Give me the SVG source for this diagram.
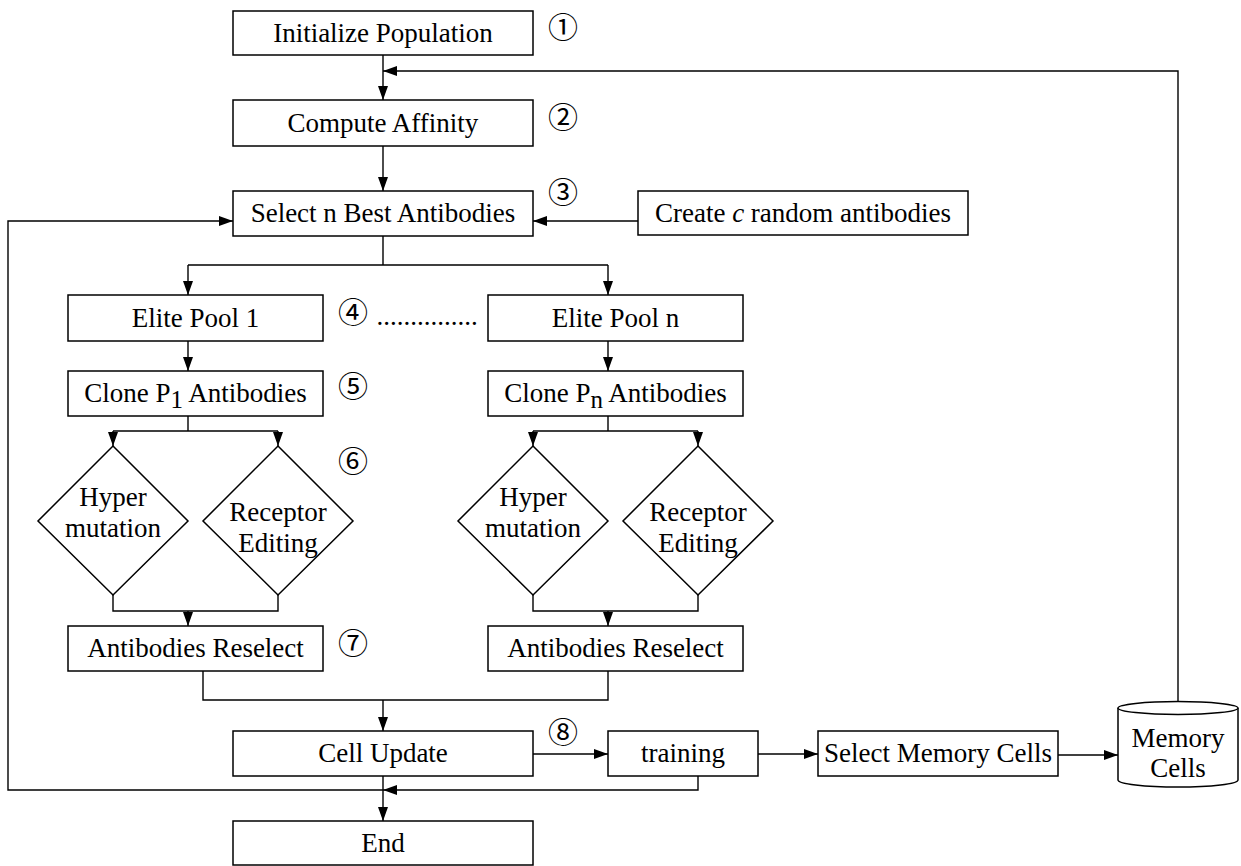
<svg xmlns="http://www.w3.org/2000/svg" width="1241" height="866" viewBox="0 0 1241 866">
<style>
.box{fill:#fff;stroke:#000;stroke-width:1.5}
.t{font-family:'Liberation Serif','Times New Roman','DejaVu Serif',serif;font-size:27px;fill:#000;text-anchor:middle}
.n{font-family:'Noto Sans CJK JP','DejaVu Sans',sans-serif;font-size:30px;fill:#000;text-anchor:middle}
.c{fill:none;stroke:#000;stroke-width:1.4}
.a{fill:none;stroke:#000;stroke-width:1.4;marker-end:url(#ah)}
</style>
<defs>
<marker id="ah" markerUnits="userSpaceOnUse" markerWidth="14" markerHeight="10" viewBox="0 0 14 10" refX="14" refY="5" orient="auto">
<path d="M0,0 L14,5 L0,10 z" fill="#000"/>
</marker>
</defs>
<rect width="1241" height="866" fill="#fff"/>

<g id="connectors">
<path class="a" d="M383,55 V100"/>
<path class="a" d="M1178,702 V71 H383"/>
<path class="a" d="M383,146 V191"/>
<path class="a" d="M638,221 H533"/>
<path class="c" d="M383,236 V265 M188,265 H608"/>
<path class="a" d="M188,265 V295"/>
<path class="a" d="M608,265 V295"/>
<path class="a" d="M188,341 V371"/>
<path class="a" d="M608,341 V371"/>
<path class="c" d="M188,416 V431 M113,431 H278"/>
<path class="a" d="M113,431 V446"/>
<path class="a" d="M278,431 V446"/>
<path class="c" d="M608,416 V431 M533,431 H698"/>
<path class="a" d="M533,431 V446"/>
<path class="a" d="M698,431 V446"/>
<path class="c" d="M113,595 V611 H278 V595"/>
<path class="a" d="M188,611 V626"/>
<path class="c" d="M533,595 V611 H698 V595"/>
<path class="a" d="M608,611 V626"/>
<path class="c" d="M203,671 V700 H608 V671"/>
<path class="a" d="M383,700 V731"/>
<path class="a" d="M533,754 H608"/>
<path class="a" d="M758,754 H818"/>
<path class="a" d="M1058,755 H1118"/>
<path class="a" d="M383,776 V821"/>
<path class="a" d="M698,776 V790 H383"/>
<path class="a" d="M383,790 H8 V221 H233"/>
</g>

<g id="init"><rect class="box" x="233" y="11" width="300" height="44"/><text class="t" x="383" y="42">Initialize Population</text></g>
<g id="affinity"><rect class="box" x="233" y="100" width="300" height="46"/><text class="t" x="383" y="132">Compute Affinity</text></g>
<g id="select"><rect class="box" x="233" y="191" width="300" height="45"/><text class="t" x="383" y="222">Select n Best Antibodies</text></g>
<g id="create"><rect class="box" x="638" y="191" width="330" height="44"/><text class="t" x="803" y="222">Create <tspan font-style="italic">c</tspan> random antibodies</text></g>

<g id="elite1"><rect class="box" x="68" y="295" width="255" height="46"/><text class="t" x="195.5" y="327">Elite Pool 1</text></g>
<g id="eliten"><rect class="box" x="488" y="295" width="255" height="46"/><text class="t" x="615.5" y="327">Elite Pool n</text></g>
<g id="dots"><text class="t" x="427" y="325">...............</text></g>

<g id="clone1"><rect class="box" x="68" y="371" width="255" height="45"/><text class="t" x="195.5" y="402">Clone P<tspan font-size="25" dy="6">1</tspan><tspan dy="-6"> Antibodies</tspan></text></g>
<g id="clonen"><rect class="box" x="488" y="371" width="255" height="45"/><text class="t" x="615.5" y="402">Clone P<tspan font-size="25" dy="6">n</tspan><tspan dy="-6"> Antibodies</tspan></text></g>

<g id="hyper1"><polygon class="box" points="113,446 188,521 113,595 38,521"/><text class="t" x="113" y="506">Hyper</text><text class="t" x="113" y="537">mutation</text></g>
<g id="receptor1"><polygon class="box" points="278,446 353,521 278,595 203,521"/><text class="t" x="278" y="521">Receptor</text><text class="t" x="278" y="552">Editing</text></g>
<g id="hypern"><polygon class="box" points="533,446 608,521 533,595 458,521"/><text class="t" x="533" y="506">Hyper</text><text class="t" x="533" y="537">mutation</text></g>
<g id="receptorn"><polygon class="box" points="698,446 773,521 698,595 623,521"/><text class="t" x="698" y="521">Receptor</text><text class="t" x="698" y="552">Editing</text></g>

<g id="reselect1"><rect class="box" x="68" y="626" width="255" height="45"/><text class="t" x="195.5" y="657">Antibodies Reselect</text></g>
<g id="reselectn"><rect class="box" x="488" y="626" width="255" height="45"/><text class="t" x="615.5" y="657">Antibodies Reselect</text></g>

<g id="cellupdate"><rect class="box" x="233" y="731" width="300" height="45"/><text class="t" x="383" y="762">Cell Update</text></g>
<g id="training"><rect class="box" x="608" y="731" width="150" height="45"/><text class="t" x="683" y="762">training</text></g>
<g id="selectmem"><rect class="box" x="818" y="731" width="240" height="45"/><text class="t" x="938" y="762">Select Memory Cells</text></g>
<g id="memory"><path class="box" d="M1118,708 V780 A60,7 0 0 0 1238,780 V708"/><ellipse class="box" cx="1178" cy="708" rx="60" ry="6.5"/><text class="t" x="1178" y="747">Memory</text><text class="t" x="1178" y="777">Cells</text></g>
<g id="end"><rect class="box" x="233" y="821" width="300" height="44"/><text class="t" x="383" y="852">End</text></g>

<g id="steps">
<text class="n" x="563" y="38">①</text>
<text class="n" x="563" y="128">②</text>
<text class="n" x="563" y="203">③</text>
<text class="n" x="353" y="323">④</text>
<text class="n" x="353" y="397">⑤</text>
<text class="n" x="353" y="472">⑥</text>
<text class="n" x="353" y="654">⑦</text>
<text class="n" x="563" y="743">⑧</text>
</g>
</svg>
